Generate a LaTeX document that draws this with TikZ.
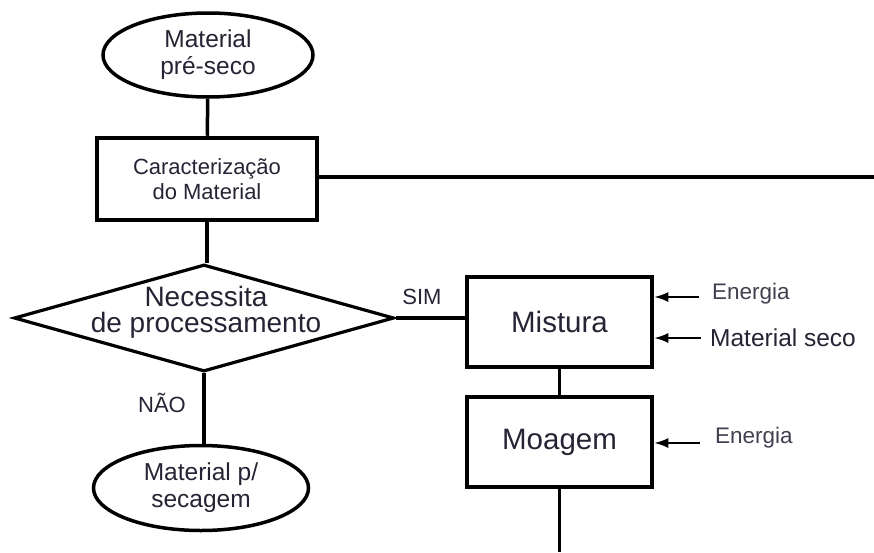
\documentclass[tikz,border=0pt]{standalone}
\usepackage{fontspec}
\setmainfont{Liberation Sans}
\usetikzlibrary{shapes.geometric,arrows.meta}
\definecolor{txt}{RGB}{36,36,52}
\definecolor{txtlight}{RGB}{64,64,80}
\tikzset{
  fs/.style 2 args={font=\fontsize{#1}{#2}\selectfont},
  terminal/.style={ellipse, draw, line width=3.5pt, text=txt, align=center, inner sep=0pt},
  procbox/.style={rectangle, draw, line width=4.5pt, text=txt, align=center, inner sep=0pt},
  decision/.style={diamond, draw, line width=3.2pt, inner sep=0pt},
  link/.style={line width=3.5pt},
  feed/.style={line width=2pt, -{Latex[length=14pt,width=10pt]}},
  tag/.style={text=txt, inner sep=0pt},
}
\begin{document}
\begin{tikzpicture}[x=1pt,y=-1pt]
  \useasboundingbox (0,0) rectangle (874,552);

  % main column
  \node[terminal, fs={24.5}{27}, minimum width=210pt, minimum height=84pt] (pre) at (208,55)
    {Material\\pré-seco};
  \node[procbox, fs={22}{25}, minimum width=220pt, minimum height=82pt] (car) at (207,179)
    {Caracterização\\do Material};
  \node[decision, minimum width=380pt, minimum height=107pt] (dec) at (204,318) {};
  \node[tag, fs={28}{26}, align=center] (dectxt) at (206,312) {Necessita\\de processamento};
  \node[terminal, fs={24.5}{27}, minimum width=215pt, minimum height=85pt] (sec) at (201,488)
    {Material p/\\secagem};

  % processing column
  \node[procbox, fs={29.5}{32}, minimum width=185pt, minimum height=90pt] (mis) at (559.5,322) {Mistura};
  \node[procbox, fs={29.5}{32}, minimum width=185pt, minimum height=90pt] (moa) at (559.5,442) {Moagem};

  % branch labels
  \node[tag, fs={22}{24}] (sim) at (422,297) {SIM};
  \node[tag, fs={22}{24}] (nao) at (162,403) {NÃO};

  % connectors
  \coordinate (farright) at (874,177);
  \coordinate (bottom) at (559.5,552);
  \draw[link] (pre) -- (car);
  \draw[link] (car.south) -- (car.south |- dec.north);
  \draw[link] (car.east |- farright) -- (farright);
  \draw[link] (dec.east) -- (dec.east -| mis.west);
  \draw[link] (dec.south) -- (dec.south |- sec.north);
  \draw[link] (mis) -- (moa);
  \draw[link] (moa.south) -- (bottom);

  % inputs
  \coordinate (in1) at (699,297);
  \coordinate (in2) at (701,338);
  \coordinate (in3) at (700,443);
  \draw[feed] (in1) -- (in1 -| mis.east);
  \draw[feed] (in2) -- (in2 -| mis.east);
  \draw[feed] (in3) -- (in3 -| moa.east);
  \node[tag, fs={22.5}{24}, anchor=west, text=txtlight] (en1) at (712,294) {Energia};
  \node[tag, fs={24.5}{26}, anchor=west] (ms) at (710,338) {Material seco};
  \node[tag, fs={22.5}{24}, anchor=west, text=txtlight] (en2) at (715,438) {Energia};
\end{tikzpicture}
\end{document}
